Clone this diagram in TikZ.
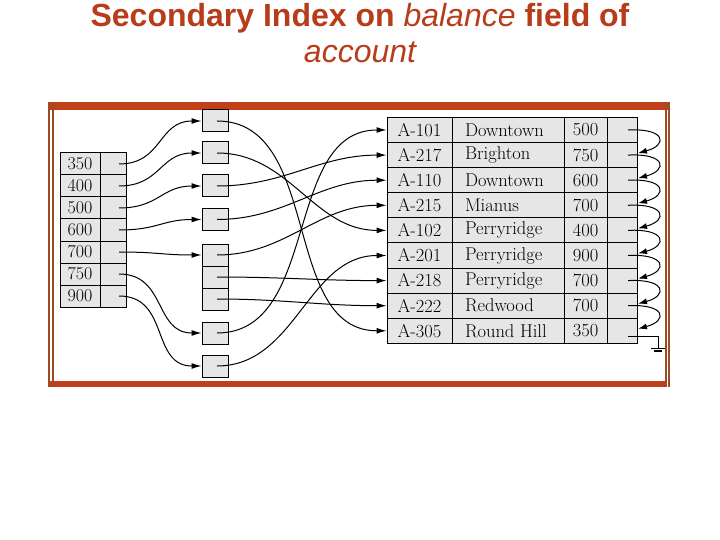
\documentclass[tikz,border=0pt]{standalone}
\usepackage{fontspec}
\setsansfont{Liberation Sans}
\usetikzlibrary{arrows.meta,positioning,calc}
\definecolor{TitleRed}{HTML}{B83C1A}
\definecolor{FrameRed}{HTML}{C1401A}
\definecolor{FrameBrown}{HTML}{9C4A24}
\definecolor{CellGray}{HTML}{E6E6E6}

\begin{document}
\begin{tikzpicture}[x=1pt,y=-1pt,
  cell/.style={draw=black,fill=CellGray,line width=1pt,inner sep=0pt,minimum height=22pt},
  rec/.style={cell,minimum height=25.1pt,font=\fontsize{18.5}{21}\selectfont},
  link/.style={line width=1pt,-{Latex[length=10pt,width=6pt]}},
  chain/.style={line width=1pt,-{Latex[length=9pt,width=6pt]}}]
\useasboundingbox (0,0) rectangle (720,540);
% title
\node[font=\sffamily\bfseries\fontsize{32}{36}\selectfont,text=TitleRed,anchor=base] (title1) at (360,26.5) {Secondary Index on {\mdseries\itshape balance} field of};
\node[font=\sffamily\itshape\fontsize{32}{36}\selectfont,text=TitleRed,anchor=base] (title2) at (360,62.5) {account};
% frame
\fill[FrameRed] (49,102) rectangle (669,110);
\fill[FrameRed] (49,381) rectangle (666,387);
\foreach \x in {49,53,666,669} \draw[FrameBrown,line width=1.2pt] (\x,102) -- (\x,387);
% index on balance
\foreach \v [count=\i] in {350,400,500,600,700,750,900} {
  \node[cell,minimum width=40pt,font=\fontsize{18}{20}\selectfont] (val\i) at (80,{164+22*(\i-1)}) {\v};
  \node[cell,minimum width=26pt] (ix\i) at (113,{164+22*(\i-1)}) {};
}
% buckets
\foreach \n/\y in {b1/121,b2/153,b3/186,b4/219.5,b5a/255,b5b/277,b5c/299,b6/333,b7/366}
  \node[cell,minimum width=26pt] (\n) at (215,\y) {};
% account file
\foreach \id/\br/\bal [count=\i] in {A-101/Downtown/500,A-217/Brighton/750,A-110/Downtown/600,A-215/Mianus/700,A-102/Perryridge/400,A-201/Perryridge/900,A-218/Perryridge/700,A-222/Redwood/700,A-305/Round Hill/350} {
  \node[rec,minimum width=65pt] (id\i) at (419.5,{130+25.1*(\i-1)}) {\id};
  \node[rec,minimum width=112pt,inner xsep=13pt] (br\i) at (508,{130+25.1*(\i-1)}) {\makebox[86pt][l]{\br}};
  \node[rec,minimum width=43pt] (bal\i) at (585.5,{130+25.1*(\i-1)}) {\bal};
  \node[rec,minimum width=30pt] (nx\i) at (622,{130+25.1*(\i-1)}) {};
}
% index -> buckets
\foreach \a/\b in {1/b1,2/b2,3/b3,4/b4,5/b5a,6/b6,7/b7}
  \draw[link] ([xshift=6pt]ix\a.center) to[out=0,in=180,looseness=1.2] (\b.west);
% buckets -> records
\foreach \b/\r in {b1/9,b2/5,b3/2,b4/3,b5a/4,b5b/7,b5c/8,b6/1,b7/6}
  \draw[link] ([xshift=2pt]\b.center) to[out=0,in=180] (id\r.west);
% record chain
\foreach \i [evaluate=\i as \j using int(\i+1)] in {1,...,8}
  \draw[chain] ([xshift=6pt]nx\i.center) .. controls +(38,-2) and +(30,-8) .. ([xshift=16pt,yshift=2pt]nx\j.center);
\coordinate (gnd) at (658,348);
\draw[line width=1pt] ([xshift=6pt,yshift=-6pt]nx9.center) -| (gnd);
\draw[line width=1pt] ([xshift=-7pt]gnd) -- ([xshift=7pt]gnd);
\draw[line width=1.6pt] ([xshift=-4pt,yshift=-3pt]gnd) -- ([xshift=4pt,yshift=-3pt]gnd);
\end{tikzpicture}
\end{document}
